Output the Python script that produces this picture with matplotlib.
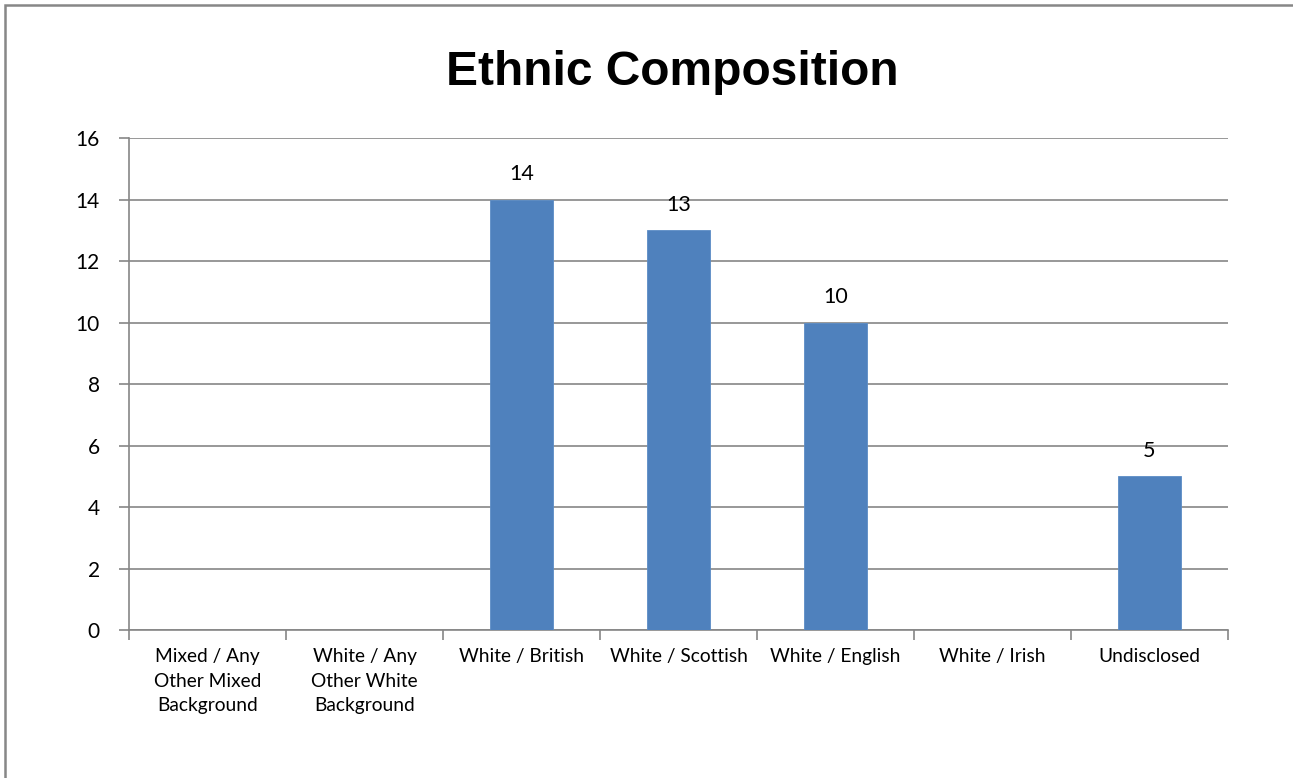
import matplotlib.pyplot as plt
from matplotlib.patches import Rectangle

categories = [
    "Mixed / Any\nOther Mixed\nBackground",
    "White / Any\nOther White\nBackground",
    "White / British",
    "White / Scottish",
    "White / English",
    "White / Irish",
    "Undisclosed",
]
counts = [0, 0, 14, 13, 10, 0, 5]
y_ticks = [0, 2, 4, 6, 8, 10, 12, 14, 16]

grid_col = "#868686"
bar_col = "#4F81BD"

fig = plt.figure(figsize=(12.93, 7.78), dpi=100)
ax = fig.add_axes([0.0998, 0.1902, 0.8499, 0.6324])

x = list(range(len(categories)))
ax.bar(x, counts, width=0.4, color=bar_col, edgecolor="#5B8CC6", linewidth=0.6, zorder=3)

for xi, v in zip(x, counts):
    if v > 0:
        ax.annotate(str(v), (xi, v), xytext=(0, 11), textcoords="offset points",
                    ha="center", va="bottom", fontsize=15.5, family="Lato")

ax.set_xlim(-0.5, len(categories) - 0.5)
ax.set_ylim(0, 16)
ax.set_yticks(y_ticks)
ax.set_yticklabels([str(t) for t in y_ticks], fontsize=15, family="Lato")

# ticks sit on category boundaries, labels centred under each bar
ax.set_xticks([i - 0.5 for i in range(len(categories) + 1)])
ax.set_xticklabels([])
ax.set_xticks(x, minor=True)
ax.set_xticklabels(categories, minor=True, fontsize=13.8, family="Lato", linespacing=1.55, va="top")
ax.tick_params(axis="x", which="minor", length=0, pad=13)
ax.tick_params(axis="x", which="major", length=7, color=grid_col, width=1.2)
ax.tick_params(axis="y", length=7, color=grid_col, width=1.2, pad=14)

ax.yaxis.grid(True, color=grid_col, linewidth=1.2, zorder=0)
ax.set_axisbelow(True)
for side in ["top", "right"]:
    ax.spines[side].set_visible(False)
for side in ["left", "bottom"]:
    ax.spines[side].set_color(grid_col)
    ax.spines[side].set_linewidth(1.2)

fig.text(0.520, 0.907, "Ethnic Composition", ha="center", va="center",
         fontsize=34.5, fontweight="bold", family="Liberation Sans")

# chart area outline
fig.patches.append(Rectangle((5 / 1293, -0.05), 1.1, 0.9936 + 0.05, transform=fig.transFigure,
                             fill=False, edgecolor="#878787", linewidth=1.8))

fig.savefig("out.png", dpi=100)
